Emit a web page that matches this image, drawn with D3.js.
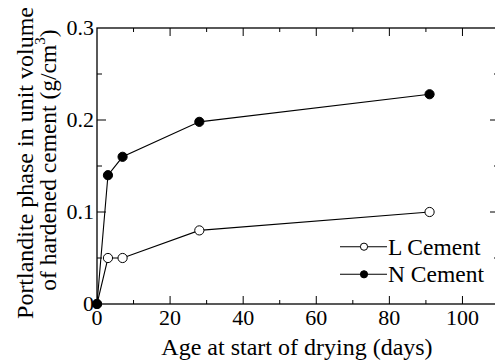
<!DOCTYPE html>
<html>
<head>
<meta charset="utf-8">
<script src="https://cdn.jsdelivr.net/npm/d3@7"></script>
<style>
  body { margin: 0; background: #fff; }
</style>
</head>
<body>
<div id="chart"></div>
<script>
// ---- data ----
const days = [0, 3, 7, 28, 91];
const lCement = [0, 0.05, 0.05, 0.08, 0.10];
const nCement = [0, 0.14, 0.16, 0.198, 0.228];
const xTicks = [0, 20, 40, 60, 80, 100];
const yTicks = [0, 0.1, 0.2, 0.3];
const yTickLabels = ['0', '0.1', '0.2', '0.3'];

const FONT = "'Liberation Serif', 'Times New Roman', 'DejaVu Serif', serif";
const W = 495, H = 362;
const margin = { left: 97, top: 28, right: -4, bottom: 58 };
const iw = W - margin.left - margin.right;
const ih = H - margin.top - margin.bottom;

const svg = d3.select('#chart').append('svg')
    .attr('width', W).attr('height', H)
    .attr('font-family', FONT);
const g = svg.append('g').attr('transform', `translate(${margin.left},${margin.top})`);

const x = d3.scaleLinear().domain([0, 110]).range([0, iw]);
const y = d3.scaleLinear().domain([0, 0.3]).range([ih, 0]);

// frame
g.append('rect').attr('width', iw).attr('height', ih)
    .attr('fill', 'none').attr('stroke', '#000').attr('stroke-width', 1.3);

// inward ticks, major + minor on all sides
const xMinor = d3.range(10, 110, 20);
const yMinor = [0.05, 0.15, 0.25];
function ticksX(vals, len) {
    vals.forEach(v => {
        g.append('line').attr('x1', x(v)).attr('x2', x(v)).attr('y1', ih).attr('y2', ih - len)
            .attr('stroke', '#000');
        g.append('line').attr('x1', x(v)).attr('x2', x(v)).attr('y1', 0).attr('y2', len)
            .attr('stroke', '#000');
    });
}
function ticksY(vals, len) {
    vals.forEach(v => {
        g.append('line').attr('y1', y(v)).attr('y2', y(v)).attr('x1', 0).attr('x2', len)
            .attr('stroke', '#000');
        g.append('line').attr('y1', y(v)).attr('y2', y(v)).attr('x1', iw).attr('x2', iw - len)
            .attr('stroke', '#000');
    });
}
ticksX(xTicks.slice(1), 8);
ticksX(xMinor, 4);
ticksY(yTicks.slice(1, 3), 9);
ticksY(yMinor, 5);

// tick labels
g.selectAll('.xl').data(xTicks).enter().append('text')
    .attr('x', d => x(d)).attr('y', ih + 21)
    .attr('text-anchor', 'middle').attr('font-size', 22)
    .text(d => d);
g.selectAll('.yl').data(yTicks).enter().append('text')
    .attr('x', -3).attr('y', d => y(d) + 7)
    .attr('text-anchor', 'end').attr('font-size', 22)
    .text((d, i) => yTickLabels[i]);

// axis titles
svg.append('text').attr('x', 297).attr('y', 355)
    .attr('text-anchor', 'middle').attr('font-size', 24)
    .text('Age at start of drying (days)');

svg.append('text').attr('transform', 'translate(33,163) rotate(-90)')
    .attr('text-anchor', 'middle').attr('font-size', 24)
    .text('Portlandite phase in unit volume');
const l2 = svg.append('text').attr('transform', 'translate(56,160) rotate(-90)')
    .attr('text-anchor', 'middle').attr('font-size', 23.5);
l2.append('tspan').text('of hardened cement (g/cm');
l2.append('tspan').attr('font-size', 15).attr('dy', -11).text('3');
l2.append('tspan').attr('dy', 11).text(')');

// series
const line = d3.line().x(d => x(d[0])).y(d => y(d[1]));
const series = [
    { name: 'L Cement', values: lCement, fill: '#fff' },
    { name: 'N Cement', values: nCement, fill: '#000' }
];
series.forEach(s => {
    const pts = days.map((d, i) => [d, s.values[i]]);
    g.append('path').datum(pts).attr('d', line)
        .attr('fill', 'none').attr('stroke', '#000').attr('stroke-width', 1.1);
    g.selectAll(null).data(pts).enter().append('circle')
        .attr('cx', d => x(d[0])).attr('cy', d => y(d[1])).attr('r', 4.6)
        .attr('fill', s.fill).attr('stroke', '#000').attr('stroke-width', 1);
});

// legend
series.forEach((s, i) => {
    const ly = 246.7 + i * 27.6;
    svg.append('line').attr('x1', 340).attr('x2', 387).attr('y1', ly).attr('y2', ly)
        .attr('stroke', '#000').attr('stroke-width', 1.1);
    svg.append('circle').attr('cx', 364).attr('cy', ly).attr('r', 3.6)
        .attr('fill', s.fill).attr('stroke', '#000');
    svg.append('text').attr('x', 388).attr('y', ly + 8)
        .attr('font-size', 23.5).text(s.name);
});
</script>
</body>
</html>
